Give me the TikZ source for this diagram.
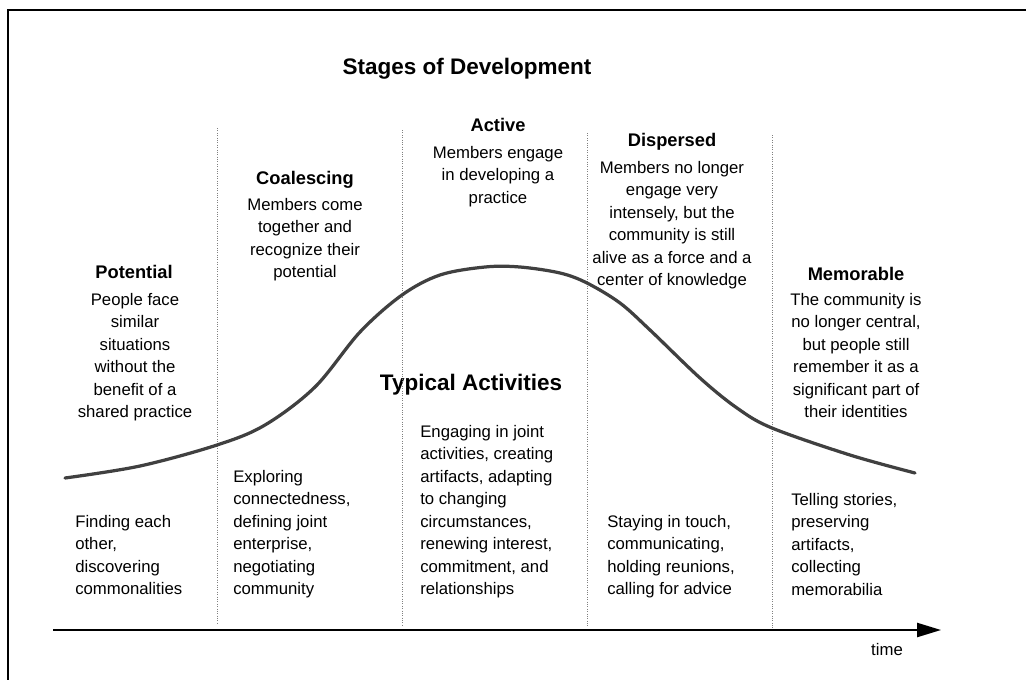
\documentclass[tikz,border=0pt]{standalone}
\usepackage{fontspec}
\setmainfont{Liberation Sans}
\usetikzlibrary{arrows.meta}
\tikzset{
  heading/.style={font=\bfseries\fontsize{16}{19}\selectfont,anchor=base},
  stagename/.style={font=\bfseries\fontsize{13}{16}\selectfont,anchor=base},
  stagetext/.style={align=center,font=\fontsize{11.9}{16}\selectfont,anchor=north,inner sep=0pt},
  activity/.style={align=left,font=\fontsize{11.9}{16}\selectfont,anchor=north west,inner sep=0pt},
  phase/.style={gray,densely dotted,line width=0.7pt},
  lifecurve/.style={line width=2.3pt,black!75,line cap=round,line join=round}
}
\begin{document}
\begin{tikzpicture}[x=0.025cm,y=-0.025cm]
\useasboundingbox (0,0) rectangle (1026,679);
% frame
\draw[line width=1.8pt] (8,690) -- (8,10) -- (1040,10);
% headings
\node[heading] (stages) at (467,74) {Stages of Development};
\node[heading] (typical) at (471,390) {Typical Activities};
% phase borders
\foreach \px/\ptop/\pbot in {217/128/623,402/130/625,587/133/627,772/135/628}
  \draw[phase] (\px,\ptop) -- (\px,\pbot);
% time axis
\coordinate (t0) at (53,630);
\coordinate (t1) at (941,630);
\draw[line width=1.4pt,-{Triangle[length=17pt,width=10pt]}] (t0) -- (t1);
\node[stagetext] (time) at (887,643) {time};
% curve
\draw[lifecurve] plot[smooth,tension=0.55] coordinates {
 (65,478) (140,466) (217,445) (265,425) (315,387) (360,332) (402,295)
 (440,275) (485,267) (520,267) (560,273) (587,283) (620,303) (650,330)
 (700,378) (737,408) (772,428) (850,455) (915,473)};
% stages
\node[stagename] (potential) at (134,278) {Potential};
\node[stagetext] (potentialtxt) at (135,293) {People face\\similar\\situations\\without the\\benefit of a\\shared practice};
\node[stagename] (coalescing) at (305,184) {Coalescing};
\node[stagetext] (coalescingtxt) at (305,198) {Members come\\together and\\recognize their\\potential};
\node[stagename] (active) at (498,131) {Active};
\node[stagetext] (activetxt) at (498,146) {Members engage\\in developing a\\practice};
\node[stagename] (dispersed) at (672,146) {Dispersed};
\node[stagetext] (dispersedtxt) at (672,161) {Members no longer\\engage very\\intensely, but the\\community is still\\alive as a force and a\\center of knowledge};
\node[stagename] (memorable) at (856,280) {Memorable};
\node[stagetext] (memorabletxt) at (856,293) {The community is\\no longer central,\\but people still\\remember it as a\\significant part of\\their identities};
% activities
\node[activity] (act1) at (75,515) {Finding each\\other,\\discovering\\commonalities};
\node[activity] (act2) at (233,470) {Exploring\\connectedness,\\defining joint\\enterprise,\\negotiating\\community};
\node[activity] (act3) at (420,425) {Engaging in joint\\activities, creating\\artifacts, adapting\\to changing\\circumstances,\\renewing interest,\\commitment, and\\relationships};
\node[activity] (act4) at (607,515) {Staying in touch,\\communicating,\\holding reunions,\\calling for advice};
\node[activity] (act5) at (791,493) {Telling stories,\\preserving\\artifacts,\\collecting\\memorabilia};
\end{tikzpicture}
\end{document}
